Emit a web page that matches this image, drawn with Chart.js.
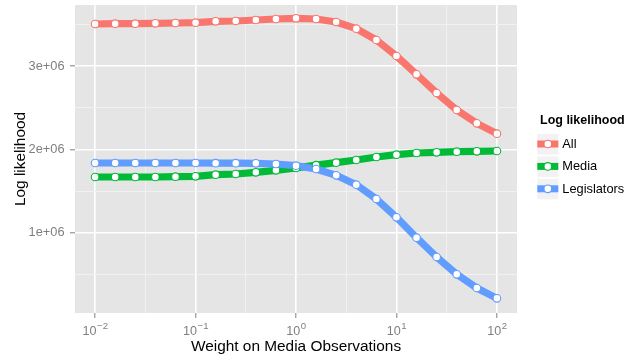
<!DOCTYPE html>
<html>
<head>
<meta charset="utf-8">
<script src="https://cdn.jsdelivr.net/npm/chart.js@4.4.1/dist/chart.umd.min.js"></script>
<style>
  html, body { margin: 0; padding: 0; background: #ffffff; }
  #wrap { width: 626px; height: 360px; }
</style>
</head>
<body>
<div id="wrap"><canvas id="c" width="626" height="360"></canvas></div>
<script>
// Weight on media observations (x), one value per fitted model
const weights = [0.01, 0.01585, 0.02512, 0.03981, 0.0631, 0.1, 0.1585, 0.2512, 0.3981, 0.631,
                 1, 1.585, 2.512, 3.981, 6.31, 10, 15.85, 25.12, 39.81, 63.1, 100];

// Log likelihood per series
const allLL = [3504000, 3508000, 3508000, 3512000, 3516000, 3520000, 3536000, 3540000, 3552000, 3564000,
               3572000, 3564000, 3528000, 3448000, 3312000, 3120000, 2900000, 2676000, 2472000, 2312000, 2188000];
const mediaLL = [1668000, 1668000, 1668000, 1668000, 1672000, 1676000, 1696000, 1704000, 1724000, 1748000,
                 1776000, 1810000, 1840000, 1872000, 1908000, 1936000, 1956000, 1964000, 1972000, 1976000, 1980000];
const legislatorsLL = [1836000, 1836000, 1836000, 1836000, 1836000, 1836000, 1834000, 1834000, 1832000, 1824000,
                       1804000, 1764000, 1688000, 1576000, 1404000, 1184000, 940000, 708000, 500000, 336000, 212000];

const seriesNames = ['All', 'Media', 'Legislators'];
const seriesColors = ['#F8766D', '#00BA38', '#619CFF'];

// Axis breaks
const xTickValues = [0.01, 0.1, 1, 10, 100];
const xTickExponents = ['\u22122', '\u22121', '0', '1', '2'];
const xMinorValues = [0.03162, 0.3162, 3.162, 31.62];
const yTickValues = [1000000, 2000000, 3000000];
const yTickLabels = ['1e+06', '2e+06', '3e+06'];
const yMinorValues = [500000, 1500000, 2500000, 3500000];

const FONT = '"Liberation Sans", Arial, sans-serif';
const series = [allLL, mediaLL, legislatorsLL];
const toPoints = arr => weights.map((w, i) => ({ x: w, y: arr[i] }));

// Lines first (all series), then points on top of every line
const datasets = [];
series.forEach((arr, k) => datasets.push({
  label: seriesNames[k],
  data: toPoints(arr),
  borderColor: seriesColors[k],
  borderWidth: 7.2,
  borderJoinStyle: 'round',
  pointRadius: 0,
  pointHoverRadius: 0,
  tension: 0,
  fill: false,
  order: 6 - k
}));
series.forEach((arr, k) => datasets.push({
  label: seriesNames[k] + ' points',
  data: toPoints(arr),
  showLine: false,
  pointRadius: 3.8,
  pointHoverRadius: 3.8,
  pointBorderWidth: 1.1,
  pointBackgroundColor: '#FFFFFF',
  pointBorderColor: seriesColors[k],
  order: 3 - k
}));

const isMajorX = v => xTickValues.indexOf(v) >= 0;
const isMajorY = v => yTickValues.indexOf(v) >= 0;

const panelPlugin = {
  id: 'panel',
  beforeDraw(chart) {
    const { ctx, chartArea: a } = chart;
    ctx.save();
    ctx.fillStyle = '#FFFFFF';
    ctx.fillRect(0, 0, chart.width, chart.height);
    ctx.fillStyle = '#E5E5E5';
    ctx.fillRect(a.left, a.top, a.right - a.left, a.bottom - a.top);
    ctx.restore();
  },
  afterDraw(chart) {
    const ctx = chart.ctx;
    const xs = chart.scales.x;
    ctx.save();
    // x tick labels as powers of ten
    ctx.fillStyle = '#7F7F7F';
    ctx.textBaseline = 'alphabetic';
    ctx.textAlign = 'left';
    xTickValues.forEach((v, i) => {
      const px = xs.getPixelForValue(v);
      ctx.font = '12.6px ' + FONT;
      const wBase = ctx.measureText('10').width;
      ctx.font = '9.6px ' + FONT;
      const wExp = ctx.measureText(xTickExponents[i]).width;
      const x0 = px - (wBase + wExp) / 2;
      ctx.font = '12.6px ' + FONT;
      ctx.fillText('10', x0, 335);
      ctx.font = '9.6px ' + FONT;
      ctx.fillText(xTickExponents[i], x0 + wBase + 0.5, 328.5);
    });

    // legend
    ctx.fillStyle = '#000000';
    ctx.font = 'bold 12.5px ' + FONT;
    ctx.fillText('Log likelihood', 540, 124.3);
    const rows = [144, 166.4, 188.8];
    rows.forEach((cy, k) => {
      ctx.fillStyle = '#F2F2F2';
      ctx.fillRect(537.3, cy - 10, 21, 20.5);
      ctx.strokeStyle = seriesColors[k];
      ctx.lineWidth = 7;
      ctx.lineCap = 'butt';
      ctx.beginPath();
      ctx.moveTo(537.3, cy);
      ctx.lineTo(558.3, cy);
      ctx.stroke();
      ctx.beginPath();
      ctx.arc(547.8, cy, 3.8, 0, Math.PI * 2);
      ctx.fillStyle = '#FFFFFF';
      ctx.fill();
      ctx.lineWidth = 1.1;
      ctx.stroke();
      ctx.fillStyle = '#000000';
      ctx.font = '12.8px ' + FONT;
      ctx.textBaseline = 'middle';
      ctx.fillText(seriesNames[k], 562.3, cy + 0.5);
      ctx.textBaseline = 'alphabetic';
    });
    ctx.restore();
  }
};

new Chart(document.getElementById('c'), {
  type: 'line',
  data: { datasets },
  plugins: [panelPlugin],
  options: {
    responsive: false,
    devicePixelRatio: 1,
    animation: false,
    events: [],
    layout: { padding: { left: 0, right: 109, top: 5, bottom: 0 } },
    plugins: { legend: { display: false }, tooltip: { enabled: false } },
    scales: {
      x: {
        type: 'logarithmic',
        min: 0.00631,
        max: 158.5,
        afterBuildTicks: s => { s.ticks = xTickValues.concat(xMinorValues).sort((a, b) => a - b).map(v => ({ value: v })); },
        afterFit: s => { s.height = 47; s.paddingLeft = 0; s.paddingRight = 0; },
        border: { display: false },
        grid: {
          color: c => isMajorX(c.tick.value) ? '#FFFFFF' : '#F2F2F2',
          lineWidth: c => isMajorX(c.tick.value) ? 1.6 : 0.9,
          tickColor: c => isMajorX(c.tick.value) ? '#7F7F7F' : 'rgba(0,0,0,0)',
          tickLength: 5,
          tickWidth: 1
        },
        ticks: { autoSkip: false, maxRotation: 0, callback: () => '' },
        title: {
          display: true,
          text: 'Weight on Media Observations',
          color: '#000000',
          font: { family: FONT, size: 15.4 },
          padding: { top: 0, bottom: 4.5 }
        }
      },
      y: {
        type: 'linear',
        min: 36000,
        max: 3732000,
        afterBuildTicks: s => { s.ticks = yTickValues.concat(yMinorValues).sort((a, b) => a - b).map(v => ({ value: v })); },
        afterFit: s => { s.width = 75; s.paddingTop = 0; s.paddingBottom = 0; },
        border: { display: false },
        grid: {
          color: c => isMajorY(c.tick.value) ? '#FFFFFF' : '#F2F2F2',
          lineWidth: c => isMajorY(c.tick.value) ? 1.6 : 0.9,
          tickColor: c => isMajorY(c.tick.value) ? '#7F7F7F' : 'rgba(0,0,0,0)',
          tickLength: 5,
          tickWidth: 1
        },
        ticks: {
          autoSkip: false,
          padding: 5.5,
          color: '#7F7F7F',
          font: { family: FONT, size: 12.8 },
          callback: v => { const i = yTickValues.indexOf(v); return i >= 0 ? yTickLabels[i] : ''; }
        },
        title: {
          display: true,
          text: 'Log likelihood',
          color: '#000000',
          font: { family: FONT, size: 15.4 },
          padding: { top: 11.5, bottom: 0 }
        }
      }
    }
  }
});
</script>
</body>
</html>
